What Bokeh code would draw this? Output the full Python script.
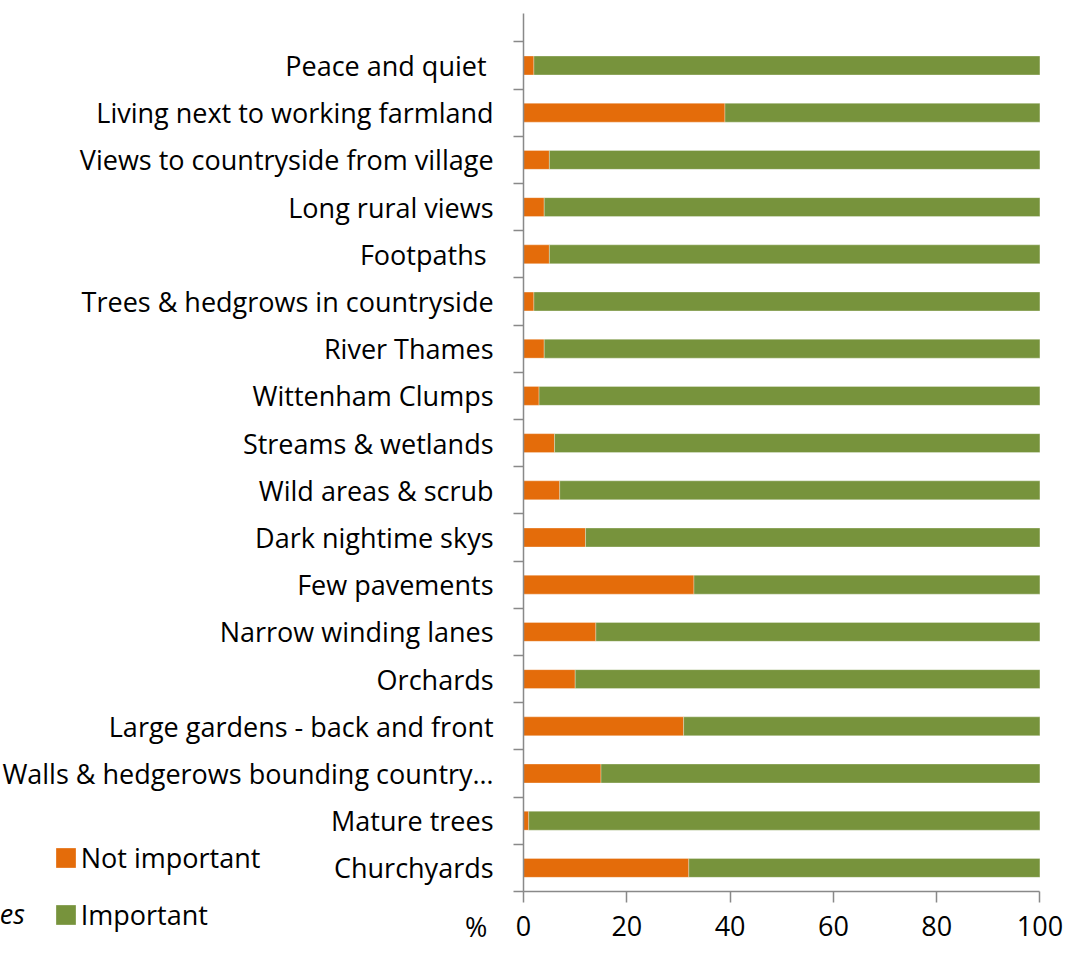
from bokeh.plotting import figure
from bokeh.models import Range1d, FixedTicker, Label, ColumnDataSource, Legend, LegendItem
from bokeh.embed import file_html
from bokeh.resources import INLINE

# ---- data (top to bottom as displayed) ----
categories = [
    "Peace and quiet ",
    "Living next to working farmland",
    "Views to countryside from village",
    "Long rural views",
    "Footpaths ",
    "Trees & hedgrows in countryside",
    "River Thames",
    "Wittenham Clumps",
    "Streams & wetlands",
    "Wild areas & scrub",
    "Dark nightime skys",
    "Few pavements",
    "Narrow winding lanes",
    "Orchards",
    "Large gardens - back and front",
    "Walls & hedgerows bounding country…",
    "Mature trees",
    "Churchyards",
]
not_important = [2, 39, 5, 4, 5, 2, 4, 3, 6, 7, 12, 33, 14, 10, 31, 15, 1, 32]
important = [98, 61, 95, 96, 95, 98, 96, 97, 94, 93, 88, 67, 86, 90, 69, 85, 99, 68]
series_names = ["Not important", "Important"]
x_ticks = [0, 20, 40, 60, 80, 100]

ORANGE = "#E46C0A"
GREEN = "#77933C"
AXIS = "#898989"
FONT = "Open Sans"
FS = "27px"

n = len(categories)
ypos = [n - 1 - i for i in range(n)]
src = ColumnDataSource(dict(y=ypos, cat=categories, not_imp=not_important, imp=important))

p = figure(width=1067, height=945, output_backend="svg", toolbar_location=None,
           x_range=Range1d(-101.3, 105.34), y_range=Range1d(-1.644, 18.377),
           min_border_left=0, min_border_right=0, min_border_top=0, min_border_bottom=0)
p.outline_line_color = None
p.grid.visible = False

rs = p.hbar_stack(["not_imp", "imp"], y="y", height=0.4, color=[ORANGE, GREEN], source=src,
                  line_color="white", line_width=0.6, line_alpha=0.5)

# x axis
xa = p.xaxis[0]
xa.fixed_location = -0.5
xa.bounds = (0, 100)
xa.ticker = FixedTicker(ticks=x_ticks)
xa.axis_line_color = AXIS
xa.axis_line_width = 1.5
xa.major_tick_line_color = AXIS
xa.major_tick_line_width = 1.5
xa.major_tick_in = 0
xa.major_tick_out = 11
xa.minor_tick_line_color = None
xa.major_label_text_font = FONT
xa.major_label_text_font_size = FS
xa.major_label_text_color = "black"
xa.major_label_standoff = 13

# y axis
ya = p.yaxis[0]
ya.fixed_location = 0
ya.bounds = (-0.5, 18.1)
ya.ticker = FixedTicker(ticks=ypos, minor_ticks=[k - 0.5 for k in range(n + 1)])
ya.major_label_overrides = {y: c for y, c in zip(ypos, categories)}
ya.axis_line_color = AXIS
ya.axis_line_width = 1.5
ya.major_tick_line_color = None
ya.major_tick_in = 0
ya.major_tick_out = 0
ya.minor_tick_line_color = AXIS
ya.minor_tick_line_width = 1.5
ya.minor_tick_in = 0
ya.minor_tick_out = 10
ya.major_label_text_font = FONT
ya.major_label_text_font_size = FS
ya.major_label_text_color = "black"
ya.major_label_standoff = 20

legend = Legend(items=[LegendItem(label=series_names[0], renderers=[rs[0]]),
                       LegendItem(label=series_names[1], renderers=[rs[1]])],
                location=(52.7, 12), glyph_width=25, glyph_height=25, label_height=20,
                label_standoff=3, spacing=20, padding=0, margin=0,
                border_line_color=None, background_fill_alpha=0,
                label_text_font=FONT, label_text_font_size=FS, label_text_color="black")
p.add_layout(legend)

p.add_layout(Label(x=-9.16, y=-1.24, text="%", text_font=FONT, text_font_size=FS,
                   text_align="center", text_baseline="middle", text_color="black"))
p.add_layout(Label(x=-96.6, y=-0.97, text="es", text_font=FONT, text_font_size=FS,
                   text_font_style="italic", text_align="right", text_baseline="middle",
                   text_color="black"))

open("out.html", "w").write(file_html(p, INLINE))
